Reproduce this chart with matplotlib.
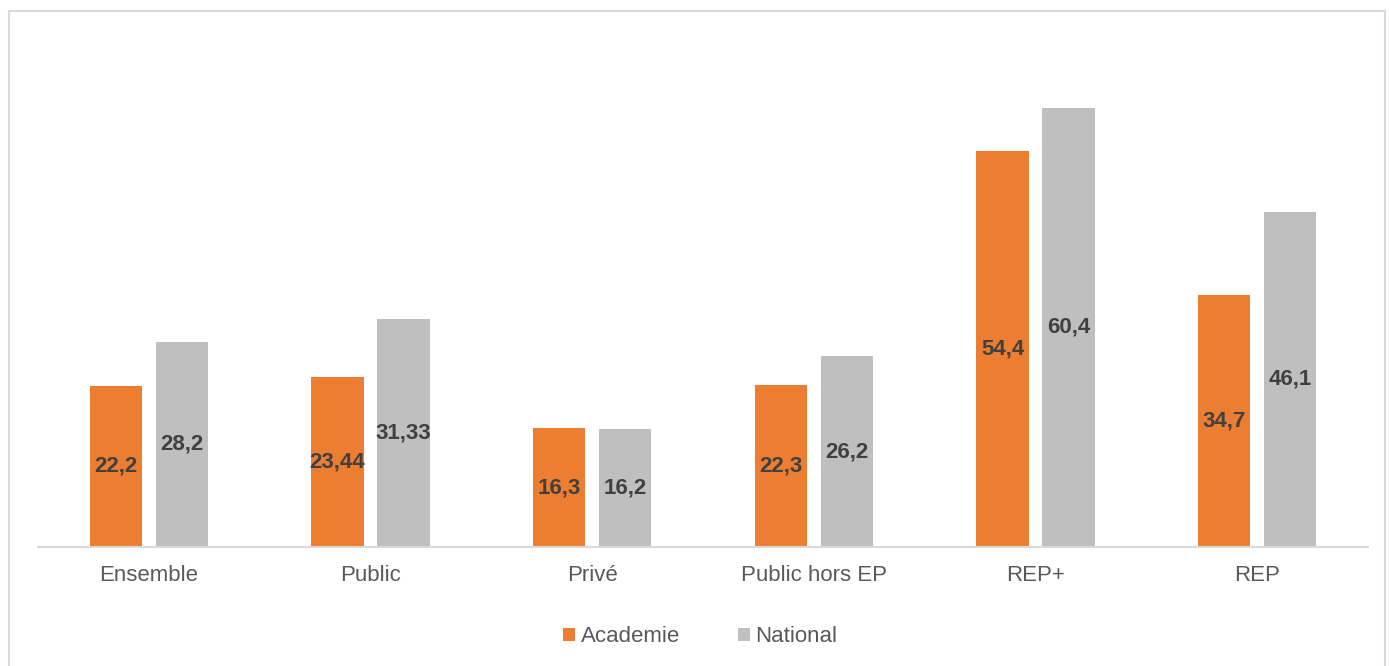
import matplotlib
matplotlib.use('Agg')
import numpy as np
import matplotlib.pyplot as plt
from matplotlib.patches import Rectangle

categories = ['Ensemble', 'Public', 'Privé', 'Public hors EP', 'REP+', 'REP']
academie = [22.2, 23.44, 16.3, 22.3, 54.4, 34.7]
national = [28.2, 31.33, 16.2, 26.2, 60.4, 46.1]
academie_labels = ['22,2', '23,44', '16,3', '22,3', '54,4', '34,7']
national_labels = ['28,2', '31,33', '16,2', '26,2', '60,4', '46,1']

plt.rcParams['font.family'] = ['Liberation Sans', 'DejaVu Sans']

fig = plt.figure(figsize=(13.9, 6.66), dpi=100)
ax = fig.add_axes([38/1390, 1-547/666, (1368-38)/1390, (547-38)/666])

# chart border
fig.patches.append(Rectangle((9/1390, -0.05), (1385-9)/1390, 1.05 - 11/666,
                             transform=fig.transFigure, fill=False,
                             edgecolor='#D9D9D9', linewidth=1.5))

x = np.arange(len(categories))
w = 0.235
off = 0.149
orange = '#ED7D31'
grey = '#BFBFBF'
b1 = ax.bar(x - off, academie, w, color=orange, label='Academie')
b2 = ax.bar(x + off, national, w, color=grey, label='National')

for bars, labs in ((b1, academie_labels), (b2, national_labels)):
    for b, t in zip(bars, labs):
        ax.text(b.get_x() + b.get_width()/2, b.get_height()/2, t,
                ha='center', va='center', fontsize=16, fontweight='bold',
                color='#404040')

ax.set_xlim(-0.5, len(categories) - 0.5)
ax.set_ylim(0, 70)
ax.set_yticks([])
for s in ['top', 'right', 'left']:
    ax.spines[s].set_visible(False)
ax.spines['bottom'].set_color('#D9D9D9')
ax.spines['bottom'].set_linewidth(1.5)
ax.set_xticks(x)
ax.set_xticklabels(categories, fontsize=16, color='#595959')
ax.tick_params(axis='x', length=0, pad=13)

fig.legend(handles=[b1, b2], labels=['Academie', 'National'],
           loc='center', bbox_to_anchor=(700/1390, 1-637/666), ncol=2,
           frameon=False, fontsize=16, labelcolor='#595959',
           handlelength=0.55, handleheight=0.55, handletextpad=0.25,
           columnspacing=2.6)

fig.savefig('out.png', dpi=100)
